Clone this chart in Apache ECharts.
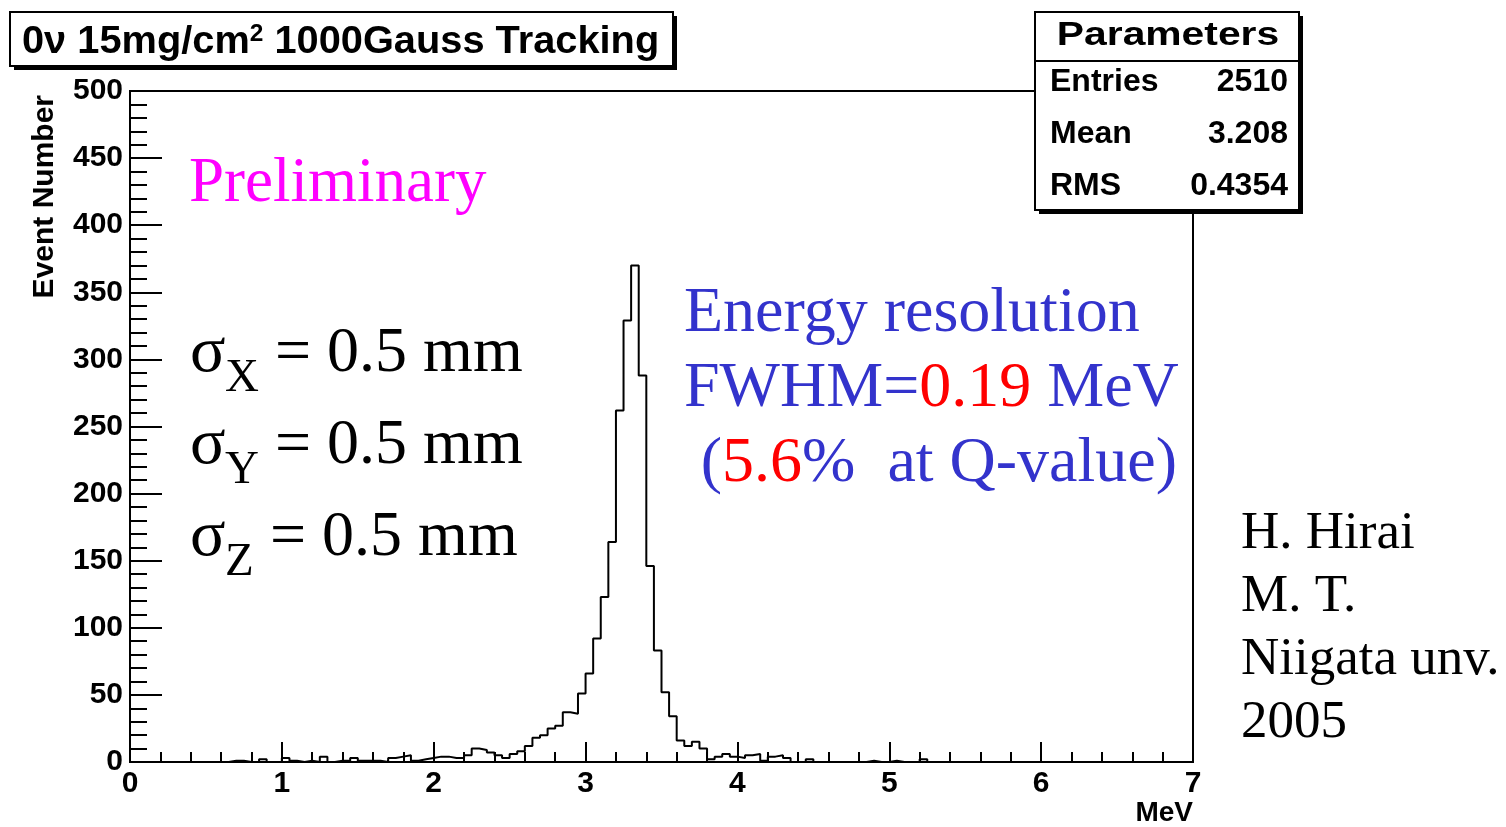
<!DOCTYPE html>
<html>
<head>
<meta charset="utf-8">
<title>0ν 15mg/cm2 1000Gauss Tracking</title>
<script src="https://cdn.jsdelivr.net/npm/echarts@6/dist/echarts.min.js"></script>
<style>
    html, body { margin: 0; padding: 0; background: #fff; }
    #main { width: 1506px; height: 827px; }
</style>
</head>
<body>
<div id="main"></div>
<script>
    // histogram, 0.05 MeV bins, one array per MeV (20 bins each)
    const binWidth = 0.05;
    const counts0to1 = [0,0,0,0,0, 0,0,0,0,0, 0,0,0,1,1, 0,0,2,0,0];
    const counts1to2 = [3,1,0,1,0, 4,0,1,1,3, 1,1,1,0,3, 4,5,1,2,3];
    const counts2to3 = [4,4,3,3,5, 10,9,7,5,3, 6,8,12,18,20, 25,27,37,36,51];
    const counts3to4 = [66,92,123,164,262, 329,370,288,146,83, 52,34,16,12,15, 10,2,4,6,4];
    const counts4to5 = [3,5,6,1,4, 5,3,0,0,2, 0,0,0,0,0, 0,0,1,0,0];
    const counts5to6 = [1,0,0,0,2, 0,0,0,0,0, 0,0,0,0,0, 0,0,0,0,0];
    const counts6to7 = [0,0,0,0,0, 0,0,0,0,0, 0,0,0,0,0, 0,0,0,0,0];

    const xTicks = [0, 1, 2, 3, 4, 5, 6, 7];
    const yTicks = [0, 50, 100, 150, 200, 250, 300, 350, 400, 450, 500];

    const statNames = ['Entries', 'Mean', 'RMS'];
    const statValues = ['2510', '3.208', '0.4354'];
    const sigmaAxes = ['X', 'Y', 'Z'];
    const authorLines = ['H. Hirai', 'M. T.', 'Niigata unv.', '2005'];

    let counts = [].concat(counts0to1, counts1to2, counts2to3, counts3to4, counts4to5, counts5to6, counts6to7);
    let histData = counts.map(function (c, i) { return [+(i * binWidth).toFixed(2), c]; });
    histData.push([xTicks[xTicks.length - 1], counts[counts.length - 1]]);

    const sans = "'Liberation Sans', Arial, Helvetica, sans-serif";
    const serif = "'Liberation Serif', 'Times New Roman', serif";
    const blue = '#3333cc';

    let chart = echarts.init(document.getElementById('main'));

    let graphics = [];
    // title box
    graphics.push({ type: 'rect', z: 100, shape: { x: 14, y: 16, width: 663, height: 54 }, style: { fill: '#000' } });
    graphics.push({ type: 'rect', z: 101, shape: { x: 10, y: 12, width: 663, height: 54 }, style: { fill: '#fff', stroke: '#000', lineWidth: 2 } });
    graphics.push({
        type: 'text', z: 102, x: 22, y: 42, scaleX: 1.02,
        style: {
            text: '0ν 15mg/cm{sup|2} 1000Gauss Tracking',
            font: 'bold 39px ' + sans, fill: '#000', verticalAlign: 'middle',
            rich: { sup: { fontSize: 24, fontWeight: 'bold', fontFamily: sans, verticalAlign: 'top', lineHeight: 16 } }
        }
    });
    // stats box
    graphics.push({ type: 'rect', z: 100, shape: { x: 1039, y: 16, width: 264, height: 198 }, style: { fill: '#000' } });
    graphics.push({ type: 'rect', z: 101, shape: { x: 1035, y: 12, width: 264, height: 198 }, style: { fill: '#fff', stroke: '#000', lineWidth: 2 } });
    graphics.push({ type: 'line', z: 102, shape: { x1: 1035, y1: 61, x2: 1299, y2: 61 }, style: { stroke: '#000', lineWidth: 2 } });
    graphics.push({
        type: 'text', z: 102, x: 1168, y: 36, scaleX: 1.2,
        style: { text: 'Parameters', font: 'bold 34px ' + sans, fill: '#000', align: 'center', verticalAlign: 'middle' }
    });
    statNames.forEach(function (name, i) {
        let y = 82 + i * 52;
        graphics.push({ type: 'text', z: 102, x: 1050, y: y, style: { text: name, font: 'bold 32px ' + sans, fill: '#000', verticalAlign: 'middle' } });
        graphics.push({ type: 'text', z: 102, x: 1288, y: y, style: { text: statValues[i], font: 'bold 32px ' + sans, fill: '#000', align: 'right', verticalAlign: 'middle' } });
    });
    // axis titles
    graphics.push({
        type: 'text', z: 50, x: 45, y: 95, rotation: Math.PI / 2,
        style: { text: 'Event Number', font: 'bold 30px ' + sans, fill: '#000', align: 'right', verticalAlign: 'middle' }
    });
    graphics.push({
        type: 'text', z: 50, x: 1193, y: 813,
        style: { text: 'MeV', font: 'bold 28px ' + sans, fill: '#000', align: 'right', verticalAlign: 'middle' }
    });
    // annotations
    graphics.push({
        type: 'text', z: 50, x: 189, y: 184,
        style: { text: 'Preliminary', font: '63px ' + serif, fill: '#ff00ff', verticalAlign: 'middle' }
    });
    sigmaAxes.forEach(function (a, i) {
        let base = 376 + i * 92;
        graphics.push({ type: 'text', z: 50, x: 190, y: base - 22, style: { text: 'σ', font: '66px ' + serif, fill: '#000', verticalAlign: 'middle' } });
        graphics.push({ type: 'text', z: 50, x: 225, y: base + 19 - 16, style: { text: a, font: '47px ' + serif, fill: '#000', verticalAlign: 'middle' } });
        let subW = a === 'Z' ? 29 : 34;
        graphics.push({ type: 'text', z: 50, x: 225 + subW, y: base - 22, style: { text: ' = 0.5 mm', font: '64px ' + serif, fill: '#000', verticalAlign: 'middle' } });
    });
    graphics.push({
        type: 'text', z: 50, x: 684, y: 314,
        style: { text: 'Energy resolution', font: '64px ' + serif, fill: blue, verticalAlign: 'middle' }
    });
    graphics.push({
        type: 'text', z: 50, x: 684, y: 389,
        style: {
            text: '{b|FWHM=}{r|0.19}{b| MeV}', font: '64px ' + serif, verticalAlign: 'middle',
            rich: { b: { fill: blue, fontSize: 64, fontFamily: serif }, r: { fill: '#ff0000', fontSize: 64, fontFamily: serif } }
        }
    });
    graphics.push({
        type: 'text', z: 50, x: 1177, y: 464,
        style: {
            text: '{b|(}{r|5.6}{b|%  at Q-value)}', font: '64px ' + serif, align: 'right', verticalAlign: 'middle',
            rich: { b: { fill: blue, fontSize: 64, fontFamily: serif }, r: { fill: '#ff0000', fontSize: 64, fontFamily: serif } }
        }
    });
    authorLines.forEach(function (t, i) {
        graphics.push({ type: 'text', z: 50, x: 1241, y: 534 + i * 63, style: { text: t, font: '53px ' + serif, fill: '#000', verticalAlign: 'middle' } });
    });

    let option = {
        animation: false,
        backgroundColor: '#fff',
        grid: {
            left: 130, right: 313, top: 91, bottom: 65,
            show: true, borderColor: '#000', borderWidth: 2, backgroundColor: '#fff',
            outerBoundsMode: 'none'
        },
        xAxis: {
            type: 'value',
            min: xTicks[0], max: xTicks[xTicks.length - 1], interval: 1,
            axisLine: { show: true, onZero: false, lineStyle: { color: '#000', width: 2 } },
            axisTick: { show: true, inside: true, length: 20, lineStyle: { color: '#000', width: 2 } },
            minorTick: { show: true, splitNumber: 5, length: 10, lineStyle: { color: '#000', width: 2 } },
            splitLine: { show: false },
            axisLabel: {
                margin: 7, color: '#000', fontSize: 30, fontWeight: 'bold', fontFamily: sans,
                showMinLabel: true, showMaxLabel: true,
                formatter: function (v) { return xTicks.indexOf(v) >= 0 ? String(v) : ''; }
            }
        },
        yAxis: {
            type: 'value',
            min: yTicks[0], max: yTicks[yTicks.length - 1], interval: 50,
            axisLine: { show: true, onZero: false, lineStyle: { color: '#000', width: 2 } },
            axisTick: { show: true, inside: true, length: 32, lineStyle: { color: '#000', width: 2 } },
            minorTick: { show: true, splitNumber: 5, length: 17, lineStyle: { color: '#000', width: 2 } },
            splitLine: { show: false },
            axisLabel: {
                margin: 7, color: '#000', fontSize: 30, fontWeight: 'bold', fontFamily: sans,
                showMinLabel: true, showMaxLabel: true
            }
        },
        series: [{
            type: 'line',
            step: 'end',
            data: histData,
            showSymbol: false,
            symbol: 'none',
            lineStyle: { color: '#000', width: 2 },
            z: 10
        }],
        graphic: graphics
    };
    chart.setOption(option);
</script>
</body>
</html>
